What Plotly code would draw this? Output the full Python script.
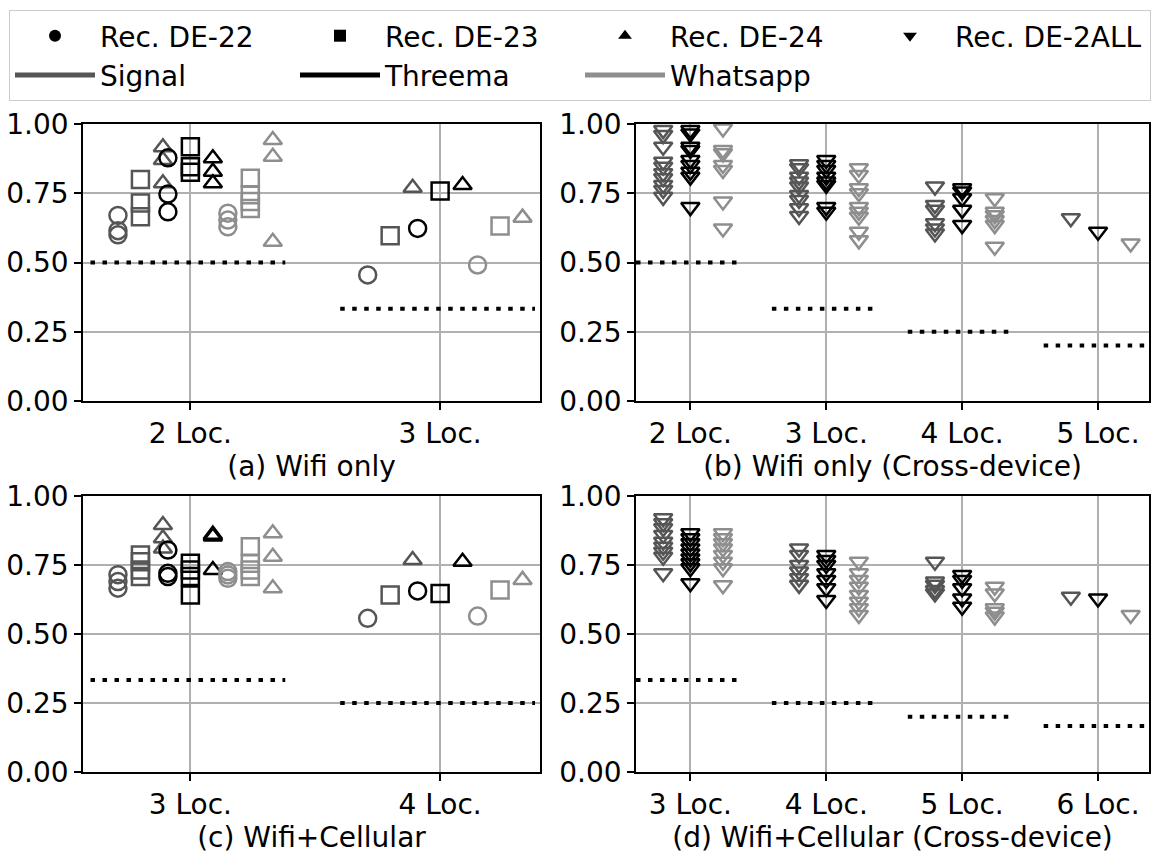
import plotly.graph_objects as go

FONT = "DejaVu Sans"
W, H = 1151, 854

# ---------------- data ----------------
a_cats = ["2 Loc.", "3 Loc."]
a_chance = [1/2, 1/3]
a_signal_22 = [[0.67, 0.615, 0.60], [0.455]]
a_signal_23 = [[0.80, 0.715, 0.665], [0.597]]
a_signal_24 = [[0.916, 0.87, 0.786], [0.77]]
a_threema_22 = [[0.878, 0.747, 0.683], [0.623]]
a_threema_23 = [[0.918, 0.846, 0.826], [0.758]]
a_threema_24 = [[0.876, 0.828, 0.786], [0.78]]
a_whatsapp_22 = [[0.678, 0.653, 0.629], [0.491]]
a_whatsapp_23 = [[0.804, 0.745, 0.72, 0.695], [0.632]]
a_whatsapp_24 = [[0.942, 0.882, 0.575], [0.662]]

b_cats = ["2 Loc.", "3 Loc.", "4 Loc.", "5 Loc."]
b_chance = [1/2, 1/3, 1/4, 1/5]
b_signal = [[0.978, 0.96, 0.918, 0.864, 0.846, 0.822, 0.804, 0.78, 0.762, 0.737],
            [0.855, 0.84, 0.81, 0.792, 0.774, 0.744, 0.726, 0.696, 0.668],
            [0.774, 0.708, 0.69, 0.642, 0.623, 0.605],
            [0.66]]
b_threema = [[0.978, 0.966, 0.918, 0.906, 0.87, 0.852, 0.828, 0.81, 0.70],
             [0.87, 0.852, 0.834, 0.81, 0.792, 0.78, 0.70, 0.683],
             [0.768, 0.756, 0.732, 0.69, 0.635],
             [0.611]]
b_whatsapp = [[0.984, 0.906, 0.894, 0.852, 0.834, 0.72, 0.623],
              [0.84, 0.816, 0.768, 0.75, 0.70, 0.683, 0.665, 0.611, 0.58],
              [0.732, 0.683, 0.671, 0.653, 0.635, 0.557],
              [0.569]]

c_cats = ["3 Loc.", "4 Loc."]
c_chance = [1/3, 1/4]
c_signal_22 = [[0.715, 0.69, 0.666], [0.557]]
c_signal_23 = [[0.786, 0.762, 0.732, 0.708], [0.641]]
c_signal_24 = [[0.895, 0.847, 0.81], [0.768]]
c_threema_22 = [[0.804, 0.72, 0.708], [0.656]]
c_threema_23 = [[0.756, 0.732, 0.708, 0.641], [0.647]]
c_threema_24 = [[0.86, 0.853, 0.732], [0.762]]
c_whatsapp_22 = [[0.726, 0.714, 0.702], [0.565]]
c_whatsapp_23 = [[0.816, 0.756, 0.732, 0.708], [0.659]]
c_whatsapp_24 = [[0.865, 0.78, 0.666], [0.696]]

d_cats = ["3 Loc.", "4 Loc.", "5 Loc.", "6 Loc."]
d_chance = [1/3, 1/4, 1/5, 1/6]
d_signal = [[0.919, 0.901, 0.883, 0.859, 0.834, 0.816, 0.798, 0.78, 0.72],
            [0.81, 0.786, 0.75, 0.726, 0.702, 0.678],
            [0.762, 0.69, 0.678, 0.659, 0.647],
            [0.635]]
d_threema = [[0.865, 0.847, 0.829, 0.81, 0.792, 0.774, 0.756, 0.738, 0.684],
             [0.786, 0.768, 0.75, 0.72, 0.696, 0.666, 0.623],
             [0.714, 0.696, 0.666, 0.629, 0.599],
             [0.629]]
d_whatsapp = [[0.865, 0.847, 0.829, 0.81, 0.786, 0.762, 0.738, 0.677],
              [0.762, 0.72, 0.696, 0.671, 0.641, 0.617, 0.593, 0.569],
              [0.671, 0.647, 0.593, 0.581, 0.563],
              [0.569]]

titles = ["(a) Wifi only", "(b) Wifi only (Cross-device)",
          "(c) Wifi+Cellular", "(d) Wifi+Cellular (Cross-device)"]
apps = ["Signal", "Threema", "Whatsapp"]
recs = ["Rec. DE-22", "Rec. DE-23", "Rec. DE-24", "Rec. DE-2ALL"]

# ---------------- styles ----------------
app_color = {"Signal": "#555555", "Threema": "#000000", "Whatsapp": "#8e8e8e"}
app_off = {"Signal": -0.2, "Threema": 0.0, "Whatsapp": 0.24}
rec_off = {"Rec. DE-22": -0.09, "Rec. DE-23": 0.0, "Rec. DE-24": 0.09, "Rec. DE-2ALL": 0.0}
rec_sym = {"Rec. DE-22": "circle", "Rec. DE-23": "square",
           "Rec. DE-24": "triangle-up", "Rec. DE-2ALL": "triangle-down"}
rec_size = {"Rec. DE-22": 17, "Rec. DE-23": 17, "Rec. DE-24": 16, "Rec. DE-2ALL": 16}

fig = go.Figure()

# legend entries
for r in recs:
    fig.add_trace(go.Scatter(x=[None], y=[None], mode="markers", name=r,
                             marker=dict(symbol=rec_sym[r], size=14, color="black",
                                         line=dict(width=0)),
                             showlegend=True, xaxis="x", yaxis="y"))
for a in apps:
    fig.add_trace(go.Scatter(x=[None], y=[None], mode="lines", name=a,
                             line=dict(color=app_color[a], width=6),
                             showlegend=True, xaxis="x", yaxis="y"))

def add_points(ax, app, rec, vals):
    xs, ys = [], []
    for i, v in enumerate(vals):
        for y in v:
            xs.append(i + app_off[app] + rec_off[rec])
            ys.append(y)
    fig.add_trace(go.Scatter(
        x=xs, y=ys, mode="markers", showlegend=False,
        xaxis="x" + ax, yaxis="y" + ax,
        marker=dict(symbol=rec_sym[rec], size=rec_size[rec], color="rgba(0,0,0,0)",
                    line=dict(color=app_color[app], width=2.5))))

def add_chance(ax, chance):
    for i, c in enumerate(chance):
        fig.add_trace(go.Scatter(
            x=[i - 0.4, i + 0.38], y=[c, c], mode="lines", showlegend=False,
            xaxis="x" + ax, yaxis="y" + ax,
            line=dict(color="black", width=4, dash="4.5px,7.5px")))

# (a)
add_chance("", a_chance)
for app, sets in [("Signal", [a_signal_22, a_signal_23, a_signal_24]),
                  ("Threema", [a_threema_22, a_threema_23, a_threema_24]),
                  ("Whatsapp", [a_whatsapp_22, a_whatsapp_23, a_whatsapp_24])]:
    for rec, vals in zip(recs[:3], sets):
        add_points("", app, rec, vals)
# (b)
add_chance("2", b_chance)
for app, vals in [("Signal", b_signal), ("Threema", b_threema), ("Whatsapp", b_whatsapp)]:
    add_points("2", app, "Rec. DE-2ALL", vals)
# (c)
add_chance("3", c_chance)
for app, sets in [("Signal", [c_signal_22, c_signal_23, c_signal_24]),
                  ("Threema", [c_threema_22, c_threema_23, c_threema_24]),
                  ("Whatsapp", [c_whatsapp_22, c_whatsapp_23, c_whatsapp_24])]:
    for rec, vals in zip(recs[:3], sets):
        add_points("3", app, rec, vals)
# (d)
add_chance("4", d_chance)
for app, vals in [("Signal", d_signal), ("Threema", d_threema), ("Whatsapp", d_whatsapp)]:
    add_points("4", app, "Rec. DE-2ALL", vals)

# ---------------- layout ----------------
ML, MR, MT, MB = 83, 2, 124, 82
PW, PH = W - ML - MR, H - MT - MB
xl = [0, (540 - ML) / PW]
xr = [(636 - ML) / PW, 1.0]
yt = [1 - (401 - MT) / PH, 1.0]
yb = [0.0, 1 - (496 - MT) / PH]

tickfont = dict(family=FONT, size=28, color="black")

def xaxis(domain, anchor, cats, rng, title):
    return dict(domain=domain, anchor=anchor, range=rng, automargin=False,
                tickvals=list(range(len(cats))), ticktext=cats,
                showline=True, mirror=True, linecolor="black", linewidth=1.5,
                showgrid=True, gridcolor="#b0b0b0", gridwidth=1.5,
                ticks="outside", ticklen=7, tickwidth=1.5, tickcolor="black",
                tickfont=tickfont, zeroline=False,
                title=dict(text=title, font=tickfont, standoff=6))

def yaxis(domain, anchor):
    return dict(domain=domain, anchor=anchor, range=[0, 1], automargin=False,
                tickvals=[0, 0.25, 0.5, 0.75, 1.0], tickformat=".2f",
                showline=True, mirror=True, linecolor="black", linewidth=1.5,
                showgrid=True, gridcolor="#b0b0b0", gridwidth=1.5,
                ticks="outside", ticklen=7, tickwidth=1.5, tickcolor="black",
                tickfont=tickfont, zeroline=False)

fig.update_layout(
    width=W, height=H,
    margin=dict(l=ML, r=MR, t=MT, b=MB),
    paper_bgcolor="white", plot_bgcolor="white",
    font=dict(family=FONT, size=28, color="black"),
    xaxis=xaxis(xl, "y", a_cats, [-0.43, 1.4], titles[0]),
    yaxis=yaxis(yt, "x"),
    xaxis2=xaxis(xr, "y2", b_cats, [-0.4, 3.375], titles[1]),
    yaxis2=yaxis(yt, "x2"),
    xaxis3=xaxis(xl, "y3", c_cats, [-0.43, 1.4], titles[2]),
    yaxis3=yaxis(yb, "x3"),
    xaxis4=xaxis(xr, "y4", d_cats, [-0.4, 3.375], titles[3]),
    yaxis4=yaxis(yb, "x4"),
    legend=dict(orientation="h", xref="paper", yref="paper",
                x=(10 - ML) / PW, xanchor="left",
                y=1 + (MT - 10) / PH, yanchor="top",
                bordercolor="#cccccc", borderwidth=1, bgcolor="white",
                font=dict(family=FONT, size=28, color="black"),
                itemwidth=80, entrywidth=190, entrywidthmode="pixels",
                tracegroupgap=0, itemsizing="constant"),
    showlegend=True,
)

fig.write_html("out.html")
